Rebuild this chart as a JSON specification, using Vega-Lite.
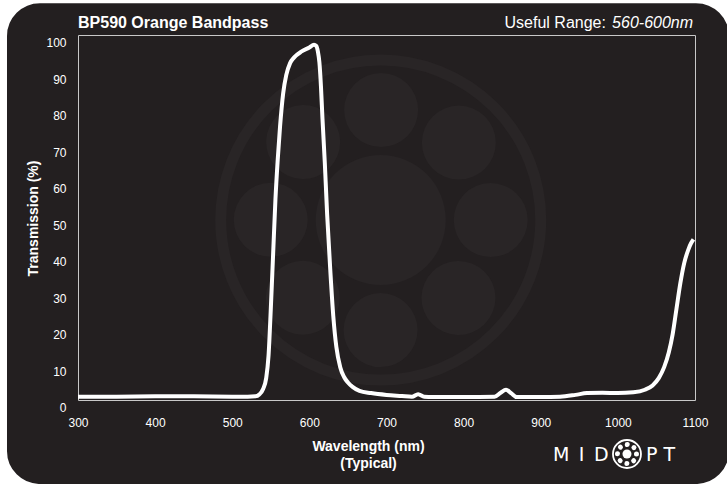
{
  "$schema": "https://vega.github.io/schema/vega-lite/v6.json",
  "width": 617,
  "height": 365,
  "autosize": {"type": "none"},
  "padding": {"left": 78, "top": 35, "right": 32, "bottom": 84},
  "background": "#231f20",
  "config": {"view": {"stroke": "#c8c8c8", "strokeWidth": 1}, "font": "Liberation Sans"},
  "data": {"values": [{}]},
  "resolve": {"axis": {"x": "independent", "y": "independent"}},
  "datasets": {
    "curve": [
      {"nm": 300, "t": 0.9}, {"nm": 350, "t": 0.9}, {"nm": 400, "t": 1.0}, {"nm": 450, "t": 1.0},
      {"nm": 500, "t": 0.9}, {"nm": 520, "t": 0.9}, {"nm": 530, "t": 1.0}, {"nm": 535, "t": 1.5},
      {"nm": 540, "t": 3}, {"nm": 544, "t": 6}, {"nm": 547, "t": 12}, {"nm": 550, "t": 25},
      {"nm": 553, "t": 40}, {"nm": 556, "t": 55}, {"nm": 559, "t": 66}, {"nm": 562, "t": 75},
      {"nm": 566, "t": 84}, {"nm": 570, "t": 89}, {"nm": 575, "t": 92.3}, {"nm": 580, "t": 93.8},
      {"nm": 590, "t": 95.5}, {"nm": 600, "t": 96.6}, {"nm": 606, "t": 97.3}, {"nm": 609, "t": 97.0},
      {"nm": 611, "t": 95.5}, {"nm": 613, "t": 92.5}, {"nm": 615, "t": 86}, {"nm": 617, "t": 77},
      {"nm": 620, "t": 65}, {"nm": 623, "t": 51}, {"nm": 627, "t": 36}, {"nm": 631, "t": 23},
      {"nm": 635, "t": 14.5}, {"nm": 640, "t": 9}, {"nm": 645, "t": 6.3}, {"nm": 650, "t": 4.8},
      {"nm": 656, "t": 3.6}, {"nm": 665, "t": 2.5}, {"nm": 680, "t": 1.9}, {"nm": 700, "t": 1.4},
      {"nm": 720, "t": 1.1}, {"nm": 733, "t": 0.9}, {"nm": 741, "t": 1.6}, {"nm": 749, "t": 0.9},
      {"nm": 760, "t": 0.8}, {"nm": 800, "t": 0.8}, {"nm": 840, "t": 0.9}, {"nm": 848, "t": 2.0},
      {"nm": 855, "t": 2.8}, {"nm": 862, "t": 1.8}, {"nm": 869, "t": 0.8}, {"nm": 900, "t": 0.8},
      {"nm": 925, "t": 0.9}, {"nm": 945, "t": 1.4}, {"nm": 960, "t": 1.9}, {"nm": 980, "t": 2.0},
      {"nm": 1000, "t": 1.9}, {"nm": 1020, "t": 2.1}, {"nm": 1035, "t": 2.8}, {"nm": 1045, "t": 4},
      {"nm": 1053, "t": 6}, {"nm": 1060, "t": 9}, {"nm": 1066, "t": 13}, {"nm": 1071, "t": 18},
      {"nm": 1076, "t": 25}, {"nm": 1081, "t": 32}, {"nm": 1086, "t": 37.5}, {"nm": 1091, "t": 41},
      {"nm": 1095, "t": 43}, {"nm": 1098, "t": 44}
    ]
  },
  "layer": [
    {
      "mark": {"type": "point", "shape": "circle", "filled": false, "size": 102400, "stroke": "#292526", "strokeWidth": 11, "opacity": 1},
      "encoding": {
        "x": {"datum": 692.5, "type": "quantitative", "scale": {"domain": [300, 1100], "nice": false, "zero": false}, "axis": null},
        "y": {"datum": 49.3, "type": "quantitative", "scale": {"domain": [0, 100], "nice": false, "zero": false}, "axis": null}
      }
    },
    {
      "mark": {"type": "point", "shape": "circle", "filled": true, "size": 16900, "fill": "#292526", "opacity": 1},
      "encoding": {"x": {"datum": 692.5, "type": "quantitative", "axis": null}, "y": {"datum": 49.3, "type": "quantitative", "axis": null}}
    },
    {
      "mark": {"type": "point", "shape": "circle", "filled": false, "size": 48400, "stroke": "#292526", "strokeWidth": 74, "strokeCap": "round", "strokeDash": [0.001, 86.393], "opacity": 1},
      "encoding": {"x": {"datum": 692.5, "type": "quantitative", "axis": null}, "y": {"datum": 49.3, "type": "quantitative", "axis": null}}
    },
    {
      "data": {"name": "curve"},
      "mark": {"type": "line", "color": "#ffffff", "strokeWidth": 4, "interpolate": "monotone", "strokeJoin": "round"},
      "encoding": {
        "x": {
          "field": "nm", "type": "quantitative",
          "scale": {"domain": [300, 1100], "nice": false, "zero": false},
          "axis": {
            "values": [300, 400, 500, 600, 700, 800, 900, 1000, 1100],
            "format": "d",
            "title": ["Wavelength (nm)", "(Typical)"],
            "grid": false, "ticks": false, "domain": false, "labelFlush": false, "labelOverlap": false,
            "labelColor": "#ffffff", "labelFontSize": 12, "labelPadding": 17,
            "titleColor": "#ffffff", "titleFontSize": 14, "titleFontWeight": "bold",
            "titleX": 290, "titleY": 50, "titleBaseline": "alphabetic", "titleAlign": "center",
            "titleLineHeight": 17.5
          }
        },
        "y": {
          "field": "t", "type": "quantitative",
          "scale": {"domain": [0, 100], "nice": false, "zero": false},
          "axis": {
            "values": [0, 10, 20, 30, 40, 50, 60, 70, 80, 90, 100],
            "tickCount": 11,
            "format": "d",
            "title": "Transmission (%)",
            "grid": false, "ticks": false, "domain": false, "labelFlush": false, "labelOverlap": false,
            "labelColor": "#ffffff", "labelFontSize": 12, "labelPadding": 12, "labelOffset": 7.5,
            "titleColor": "#ffffff", "titleFontSize": 14, "titleFontWeight": "bold",
            "titleX": -41, "titleY": 183, "titleBaseline": "alphabetic", "titleAlign": "center",
            "titleAngle": -90
          }
        }
      }
    },
    {
      "mark": {"type": "text", "text": "BP590 Orange Bandpass", "font": "Liberation Sans", "fontSize": 16, "fontWeight": "bold", "color": "#ffffff", "align": "left", "baseline": "alphabetic"},
      "encoding": {"x": {"datum": 300, "type": "quantitative", "axis": null}, "y": {"datum": 101.9, "type": "quantitative", "axis": null}}
    },
    {
      "mark": {"type": "text", "text": "560-600nm", "font": "Liberation Sans", "fontSize": 16, "fontStyle": "italic", "color": "#ffffff", "align": "right", "baseline": "alphabetic"},
      "encoding": {"x": {"datum": 1097.5, "type": "quantitative", "axis": null}, "y": {"datum": 101.9, "type": "quantitative", "axis": null}}
    },
    {
      "mark": {"type": "text", "text": "Useful Range:", "font": "Liberation Sans", "fontSize": 16, "color": "#ffffff", "align": "right", "baseline": "alphabetic"},
      "encoding": {"x": {"datum": 984.5, "type": "quantitative", "axis": null}, "y": {"datum": 101.9, "type": "quantitative", "axis": null}}
    },
    {
      "mark": {"type": "text", "text": "M\u2002I\u2002D", "font": "DejaVu Sans", "fontSize": 19, "color": "#ffffff", "align": "left", "baseline": "alphabetic"},
      "encoding": {"x": {"datum": 915.8, "type": "quantitative", "axis": null}, "y": {"datum": -16.7, "type": "quantitative", "axis": null}}
    },
    {
      "mark": {"type": "text", "text": "P T", "font": "DejaVu Sans", "fontSize": 19, "color": "#ffffff", "align": "left", "baseline": "alphabetic"},
      "encoding": {"x": {"datum": 1036.5, "type": "quantitative", "axis": null}, "y": {"datum": -16.7, "type": "quantitative", "axis": null}}
    },
    {
      "mark": {"type": "point", "shape": "circle", "filled": false, "size": 784, "stroke": "#ffffff", "strokeWidth": 1.8, "opacity": 1},
      "encoding": {"x": {"datum": 1011.8, "type": "quantitative", "axis": null}, "y": {"datum": -14.8, "type": "quantitative", "axis": null}}
    },
    {
      "mark": {"type": "point", "shape": "circle", "filled": true, "size": 81, "fill": "#ffffff", "opacity": 1},
      "encoding": {"x": {"datum": 1011.8, "type": "quantitative", "axis": null}, "y": {"datum": -14.8, "type": "quantitative", "axis": null}}
    },
    {
      "mark": {"type": "point", "shape": "circle", "filled": false, "size": 361, "stroke": "#ffffff", "strokeWidth": 5, "strokeCap": "round", "strokeDash": [0.001, 7.46], "opacity": 1},
      "encoding": {"x": {"datum": 1011.8, "type": "quantitative", "axis": null}, "y": {"datum": -14.8, "type": "quantitative", "axis": null}}
    },
    {
      "mark": {"type": "rect", "filled": false, "color": "#ffffff", "strokeWidth": 40, "cornerRadius": 53},
      "encoding": {
        "x": {"datum": 182, "type": "quantitative", "axis": null}, "x2": {"datum": 1170},
        "y": {"datum": -28.5, "type": "quantitative", "axis": null}, "y2": {"datum": 114.2}
      }
    }
  ]
}
